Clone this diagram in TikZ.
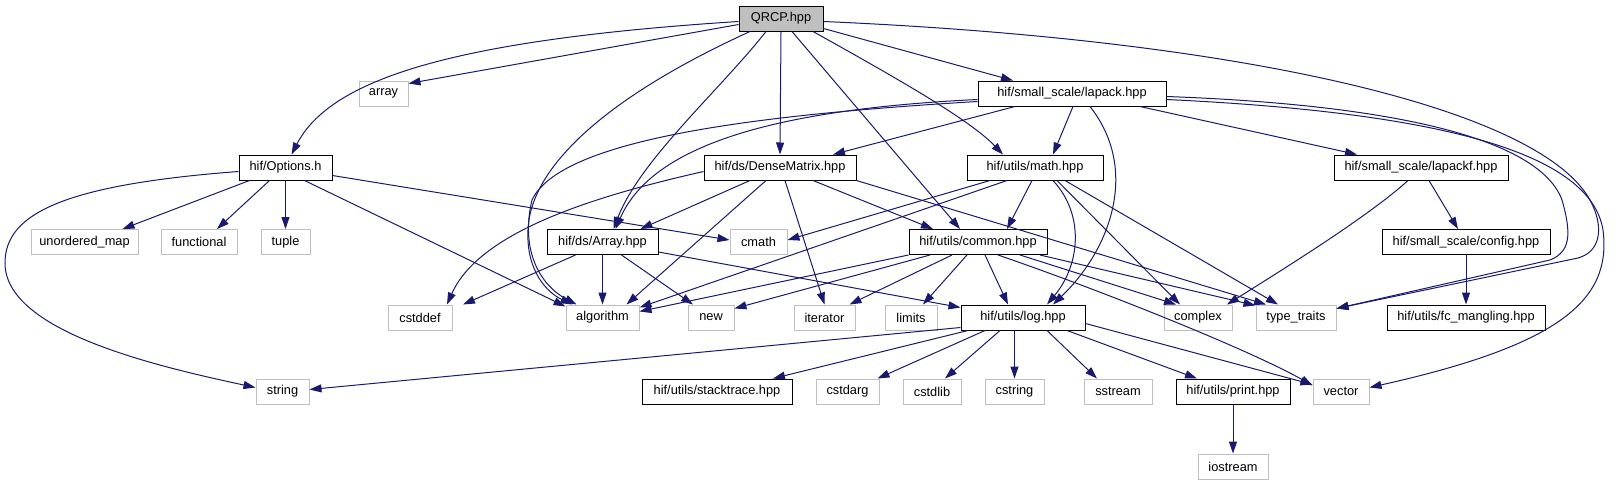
\documentclass[tikz,border=0pt]{standalone}
\usepackage{fontspec}
\setmainfont{Liberation Sans}
\usetikzlibrary{arrows.meta}
\definecolor{edgec}{RGB}{25,25,112}
\definecolor{sysgray}{RGB}{191,191,191}
\begin{document}
\begin{tikzpicture}[x=1pt,y=-1pt,
  box/.style={draw=black, line width=1pt, minimum height=25pt, inner sep=0pt, fill=white,
              font=\fontsize{12.8}{14}\selectfont},
  sys/.style={box, draw=sysgray},
  root/.style={box, fill=sysgray},
  edge/.style={draw=edgec, line width=1pt, -{Triangle[length=12pt,width=8pt]}}]
\useasboundingbox (0,0) rectangle (1620,485);
% row 0
\node[root, minimum width=84pt] (qrcp) at (781,18.5) {QRCP.hpp};
% row 1
\node[sys, minimum width=49pt] (array) at (383.5,93.5) {array};
\node[box, minimum width=188pt] (lapack) at (1072,93.5) {hif/small\_scale/lapack.hpp};
% row 2
\node[box, minimum width=93pt] (options) at (285.5,167.5) {hif/Options.h};
\node[box, minimum width=152pt] (dense) at (780,167.5) {hif/ds/DenseMatrix.hpp};
\node[box, minimum width=136pt] (math) at (1035,167.5) {hif/utils/math.hpp};
\node[box, minimum width=174pt] (lapackf) at (1421,167.5) {hif/small\_scale/lapackf.hpp};
% row 3
\node[sys, minimum width=107pt] (umap) at (84.5,242) {unordered\_map};
\node[sys, minimum width=76pt] (functional) at (199,242) {functional};
\node[sys, minimum width=49pt] (tuple) at (285.5,242) {tuple};
\node[box, minimum width=111pt] (arr) at (602.5,242) {hif/ds/Array.hpp};
\node[sys, minimum width=57pt] (cmath) at (758.5,242) {cmath};
\node[box, minimum width=138pt] (common) at (978,242) {hif/utils/common.hpp};
\node[box, minimum width=168pt] (config) at (1466,242) {hif/small\_scale/config.hpp};
% row 4
\node[sys, minimum width=64pt] (cstddef) at (420,317.5) {cstddef};
\node[sys, minimum width=73pt] (algorithm) at (602.5,317.5) {algorithm};
\node[sys, minimum width=46pt] (new) at (711,317.5) {new};
\node[sys, minimum width=61pt] (iterator) at (824.5,317.5) {iterator};
\node[sys, minimum width=52pt] (limits) at (911,317.5) {limits};
\node[box, minimum width=124pt] (log) at (1023,317.5) {hif/utils/log.hpp};
\node[sys, minimum width=68pt] (complex) at (1198,317.5) {complex};
\node[sys, minimum width=80pt] (typetraits) at (1296,317.5) {type\_traits};
\node[box, minimum width=158pt] (fcm) at (1466,317.5) {hif/utils/fc\_mangling.hpp};
% row 5
\node[sys, minimum width=53pt] (string) at (282.5,391.5) {string};
\node[box, minimum width=150pt] (stacktrace) at (717,391.5) {hif/utils/stacktrace.hpp};
\node[sys, minimum width=63pt] (cstdarg) at (847.5,391.5) {cstdarg};
\node[sys, minimum width=58pt] (cstdlib) at (932,391.5) {cstdlib};
\node[sys, minimum width=59pt] (cstring) at (1014.5,391.5) {cstring};
\node[sys, minimum width=68pt] (sstream) at (1118,391.5) {sstream};
\node[box, minimum width=114pt] (print) at (1233,391.5) {hif/utils/print.hpp};
\node[sys, minimum width=56pt] (vector) at (1341,391.5) {vector};
% row 6
\node[sys, minimum width=70pt] (iostream) at (1233,466.5) {iostream};

% QRCP.hpp
\draw[edge] ([yshift=-3pt]qrcp.west) .. controls (450,40) and (330,80) .. ([xshift=6pt]options.north);
\draw[edge] ([yshift=-6pt]qrcp.west) -- ([yshift=10pt]array.east);
\draw[edge] ([xshift=-31pt]qrcp.south) .. controls (600,100) and (530,170) .. (528,230)
   .. controls (526,272) and (548,293) .. ([xshift=-30pt]algorithm.north);
\draw[edge] ([xshift=-15pt]qrcp.south) .. controls (720,90) and (640,160) .. ([xshift=11pt]arr.north);
\draw[edge] (qrcp.south) -- (dense.north);
\draw[edge] ([xshift=11pt]qrcp.south) -- ([xshift=-18pt]common.north);
\draw[edge] ([xshift=32pt]qrcp.south) .. controls (900,80) and (970,120) .. ([xshift=-32pt]math.north);
\draw[edge] ([yshift=-10pt]qrcp.east) -- ([xshift=-59pt]lapack.north);
\draw[edge] ([yshift=-3pt]qrcp.east) .. controls (1250,40) and (1540,110) .. (1590,200)
   .. controls (1605,228) and (1600,252) .. (1578,258) -- ([yshift=9pt]typetraits.east);
% lapack.hpp
\draw[edge] ([xshift=-57pt]lapack.south) -- ([xshift=53pt]dense.north);
\draw[edge] ([xshift=1pt]lapack.south) -- ([xshift=18pt]math.north);
\draw[edge] ([xshift=68pt]lapack.south) -- ([xshift=-64pt]lapackf.north);
\draw[edge] ([xshift=18pt]lapack.south) .. controls (1140,170) and (1110,250) .. ([xshift=30pt]log.north);
\draw[edge] ([yshift=-6pt]lapack.west) .. controls (760,110) and (650,150) .. ([xshift=13pt]arr.north);
\draw[edge] ([yshift=-8pt]lapack.west) .. controls (750,115) and (560,140) .. (532,200)
   .. controls (520,250) and (540,285) .. ([xshift=-26pt]algorithm.north);
\draw[edge] ([yshift=-3pt]lapack.east) .. controls (1400,105) and (1540,140) .. (1562,200)
   .. controls (1572,235) and (1570,252) .. (1550,260) -- ([yshift=9pt]typetraits.east);
\draw[edge] ([yshift=-6pt]lapack.east) .. controls (1430,112) and (1590,150) .. (1603,230)
   .. controls (1612,300) and (1560,345) .. ([yshift=4pt]vector.east);
% Options.h
\draw[edge] ([yshift=-4pt]options.west) .. controls (60,185) and (5,215) .. (5,263)
   .. controls (5,330) and (150,365) .. ([yshift=4pt]string.west);
\draw[edge] ([xshift=-36pt]options.south) -- ([xshift=38pt]umap.north);
\draw[edge] ([xshift=-16pt]options.south) -- ([xshift=18pt]functional.north);
\draw[edge] (options.south) -- (tuple.north);
\draw[edge] ([xshift=19pt]options.south) -- ([yshift=-2pt]algorithm.north west);
\draw[edge] ([yshift=-8pt]options.east) -- ([yshift=2pt]cmath.west);
% DenseMatrix.hpp
\draw[edge] ([yshift=-4pt]dense.west) .. controls (600,195) and (480,230) .. ([xshift=27pt]cstddef.north);
\draw[edge] ([xshift=-30pt]dense.south) -- ([xshift=38pt]arr.north);
\draw[edge] ([xshift=-14pt]dense.south) -- ([xshift=24pt]algorithm.north);
\draw[edge] ([xshift=5pt]dense.south) -- (iterator.north);
\draw[edge] ([xshift=33pt]dense.south) -- ([xshift=-45pt]common.north);
\draw[edge] (dense.south east) -- ([xshift=-30pt]typetraits.north);
% Array.hpp
\draw[edge] ([xshift=-27pt]arr.south) -- ([xshift=43pt]cstddef.north);
\draw[edge] (arr.south) -- (algorithm.north);
\draw[edge] ([xshift=19pt]arr.south) -- ([xshift=-18pt]new.north);
\draw[edge] ([yshift=-10pt]arr.east) -- ([yshift=10pt]log.west);
% math.hpp
\draw[edge] ([xshift=-45pt]math.south) -- ([yshift=2pt]cmath.east);
\draw[edge] ([xshift=-28pt]math.south) -- ([yshift=10pt]algorithm.east);
\draw[edge] ([xshift=-3pt]math.south) -- ([xshift=29pt]common.north);
\draw[edge] ([xshift=18pt]math.south) .. controls (1085,215) and (1080,265) .. ([xshift=24pt]log.north);
\draw[edge] ([xshift=22pt]math.south) -- ([xshift=-18pt]complex.north);
\draw[edge] ([xshift=30pt]math.south) -- ([xshift=-18pt]typetraits.north);
% common.hpp
\draw[edge] (common.south west) -- ([yshift=6pt]algorithm.east);
\draw[edge] ([xshift=-48pt]common.south) -- ([yshift=9pt]new.east);
\draw[edge] ([xshift=-26pt]common.south) -- ([xshift=25pt]iterator.north);
\draw[edge] ([xshift=-11pt]common.south) -- ([xshift=12pt]limits.north);
\draw[edge] ([xshift=7pt]common.south) -- ([xshift=-15pt]log.north);
\draw[edge] ([xshift=42pt]common.south) -- ([xshift=-22pt]complex.north);
\draw[edge] ([xshift=62pt]common.south) -- ([yshift=-1pt]typetraits.north west);
\draw[edge] ([xshift=20pt]common.south) .. controls (1100,290) and (1250,350) .. ([yshift=6pt]vector.west);
% lapackf.hpp
\draw[edge] ([xshift=-13pt]lapackf.south) .. controls (1370,215) and (1290,265) .. ([xshift=29pt]complex.north);
\draw[edge] ([xshift=8pt]lapackf.south) -- ([xshift=-8pt]config.north);
\draw[edge] (config.south) -- (fcm.north);
% log.hpp
\draw[edge] ([yshift=-10pt]log.west) -- ([yshift=2pt]string.east);
\draw[edge] ([xshift=-55pt]log.south) -- ([xshift=56pt]stacktrace.north);
\draw[edge] ([xshift=-38pt]log.south) -- ([xshift=30pt]cstdarg.north);
\draw[edge] ([xshift=-23pt]log.south) -- ([xshift=13pt]cstdlib.north);
\draw[edge] ([xshift=-8.5pt]log.south) -- (cstring.north);
\draw[edge] ([xshift=24pt]log.south) -- ([xshift=-21pt]sstream.north);
\draw[edge] ([xshift=44pt]log.south) -- ([xshift=-36pt]print.north);
\draw[edge] ([yshift=-6pt]log.east) -- ([yshift=7pt]vector.west);
% print.hpp
\draw[edge] (print.south) -- (iostream.north);
\end{tikzpicture}
\end{document}
